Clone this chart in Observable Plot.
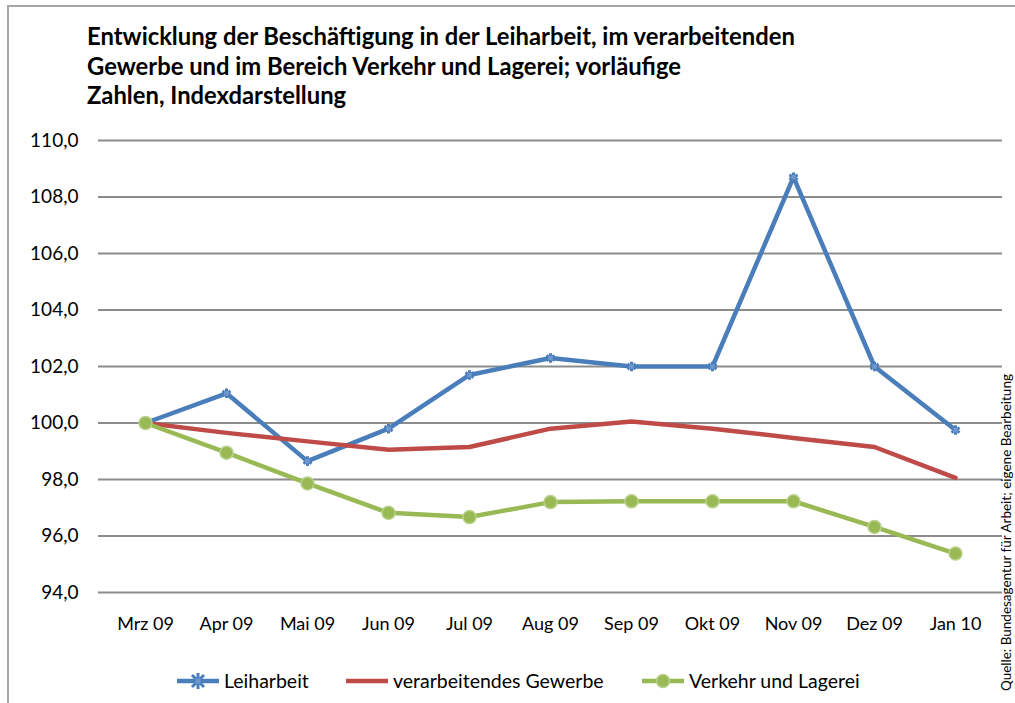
<!DOCTYPE html>
<html>
<head>
<meta charset="utf-8">
<script src="https://cdn.jsdelivr.net/npm/d3@7"></script>
<script src="https://cdn.jsdelivr.net/npm/@observablehq/plot@0.6"></script>
<style>
  html, body { margin: 0; padding: 0; background: #fff; }
  #wrap { position: relative; width: 1015px; height: 703px; overflow: hidden; font-family: Lato, "Open Sans", sans-serif; }
  #frame { position: absolute; left: 7px; top: 5px; width: 1020px; height: 720px; border-left: 2px solid #a6a6a6; border-top: 2px solid #a6a6a6; box-sizing: border-box; }
  #title { position: absolute; left: 87px; top: 22px; font-weight: 700; font-size: 23.8px; line-height: 29.5px; color: #000; }
  #chart { position: absolute; left: 0; top: 120px; }
  .leg { position: absolute; top: 669px; display: flex; align-items: center; font-size: 19.5px; line-height: 24px; color: #000; white-space: nowrap; }
  .leg svg { margin-right: 4px; }
  #source { position: absolute; left: 999px; top: 691px; transform-origin: 0 0; transform: rotate(-90deg); font-size: 13.5px; line-height: 15px; color: #000; white-space: nowrap; }
</style>
</head>
<body>
<div id="wrap">
  <div id="frame"></div>
  <div id="title"></div>
  <div id="chart"></div>
  <div id="legend"></div>
  <div id="source"></div>
</div>
<script>
const titleLines = [
  "Entwicklung der Beschäftigung in der Leiharbeit, im verarbeitenden",
  "Gewerbe und im Bereich Verkehr und Lagerei; vorläufige",
  "Zahlen, Indexdarstellung"
];
const sourceText = "Quelle: Bundesagentur für Arbeit; eigene Bearbeitung";
const months = ["Mrz 09", "Apr 09", "Mai 09", "Jun 09", "Jul 09", "Aug 09", "Sep 09", "Okt 09", "Nov 09", "Dez 09", "Jan 10"];
const seriesNames = ["Leiharbeit", "verarbeitendes Gewerbe", "Verkehr und Lagerei"];
const leiharbeit = [100.0, 101.05, 98.65, 99.8, 101.7, 102.3, 102.0, 102.0, 108.7, 102.0, 99.75];
const gewerbe = [100.0, 99.65, 99.35, 99.05, 99.15, 99.8, 100.05, 99.8, 99.47, 99.15, 98.06];
const verkehr = [100.0, 98.95, 97.86, 96.82, 96.67, 97.2, 97.23, 97.23, 97.23, 96.32, 95.38];
const yTicks = [94, 96, 98, 100, 102, 104, 106, 108, 110];
const colors = ["#4a7ebb", "#be4b48", "#98b954"];

const values = [leiharbeit, gewerbe, verkehr];
const data = [];
seriesNames.forEach((s, i) => months.forEach((m, j) => data.push({series: s, month: m, value: values[i][j]})));
const lei = data.filter(d => d.series === seriesNames[0]);
const ver = data.filter(d => d.series === seriesNames[2]);

document.getElementById("title").innerHTML = titleLines.join("<br>");
document.getElementById("source").textContent = sourceText;

const fmt = v => d3.format(".1f")(v).replace(".", ",");

const chart = Plot.plot({
  width: 1015,
  height: 540,
  marginLeft: 101,
  marginRight: 17,
  marginTop: 20,
  marginBottom: 68,
  style: {fontFamily: "Lato, 'Open Sans', sans-serif", fontSize: "18px", color: "#000", background: "transparent"},
  x: {type: "point", domain: months, padding: 0.5},
  y: {domain: [94, 110]},
  color: {domain: seriesNames, range: colors},
  marks: [
    Plot.ruleY(yTicks, {stroke: "#8c8c8c", strokeWidth: 2, strokeOpacity: 1, insetLeft: -3, insetRight: -4}),
    Plot.axisY({ticks: yTicks, tickFormat: fmt, tickSize: 0, tickPadding: 23, label: null, fontSize: 19}),
    Plot.axisX({tickSize: 0, tickPadding: 25, label: null, fontSize: 18}),
    Plot.line(data, {x: "month", y: "value", z: "series", stroke: "series", strokeWidth: 4.5, strokeLinejoin: "round", strokeLinecap: "round"}),
    Plot.dot(lei, {x: "month", y: "value", symbol: "asterisk", r: 4.5, stroke: colors[0], strokeWidth: 3, fill: colors[0]}),
    Plot.dot(lei, {x: "month", y: "value", symbol: "square", r: 2.5, fill: "#6f98cf", stroke: "none"}),
    Plot.dot(ver, {x: "month", y: "value", r: 6.5, fill: colors[2], stroke: "#b9d18a", strokeWidth: 1.5})
  ]
});
document.getElementById("chart").appendChild(chart);

// Legend
const legendPos = [176, 345, 641];
const legend = document.getElementById("legend");
seriesNames.forEach((s, i) => {
  const item = document.createElement("div");
  item.className = "leg";
  item.style.left = legendPos[i] + "px";
  let marker = "";
  if (i === 0) marker = `<path d="M22,1V17M14,9H30M16,3L28,15M28,3L16,15" stroke="${colors[0]}" stroke-width="3"/><rect x="19.5" y="6.5" width="5" height="5" fill="#6f98cf"/>`;
  if (i === 2) marker = `<circle cx="22" cy="9" r="6.5" fill="${colors[2]}" stroke="#b9d18a" stroke-width="1.5"/>`;
  item.innerHTML = `<svg width="44" height="18" viewBox="0 0 44 18"><line x1="1" y1="9" x2="43" y2="9" stroke="${colors[i]}" stroke-width="4.5"/>${marker}</svg><span>${s}</span>`;
  legend.appendChild(item);
});
</script>
</body>
</html>
